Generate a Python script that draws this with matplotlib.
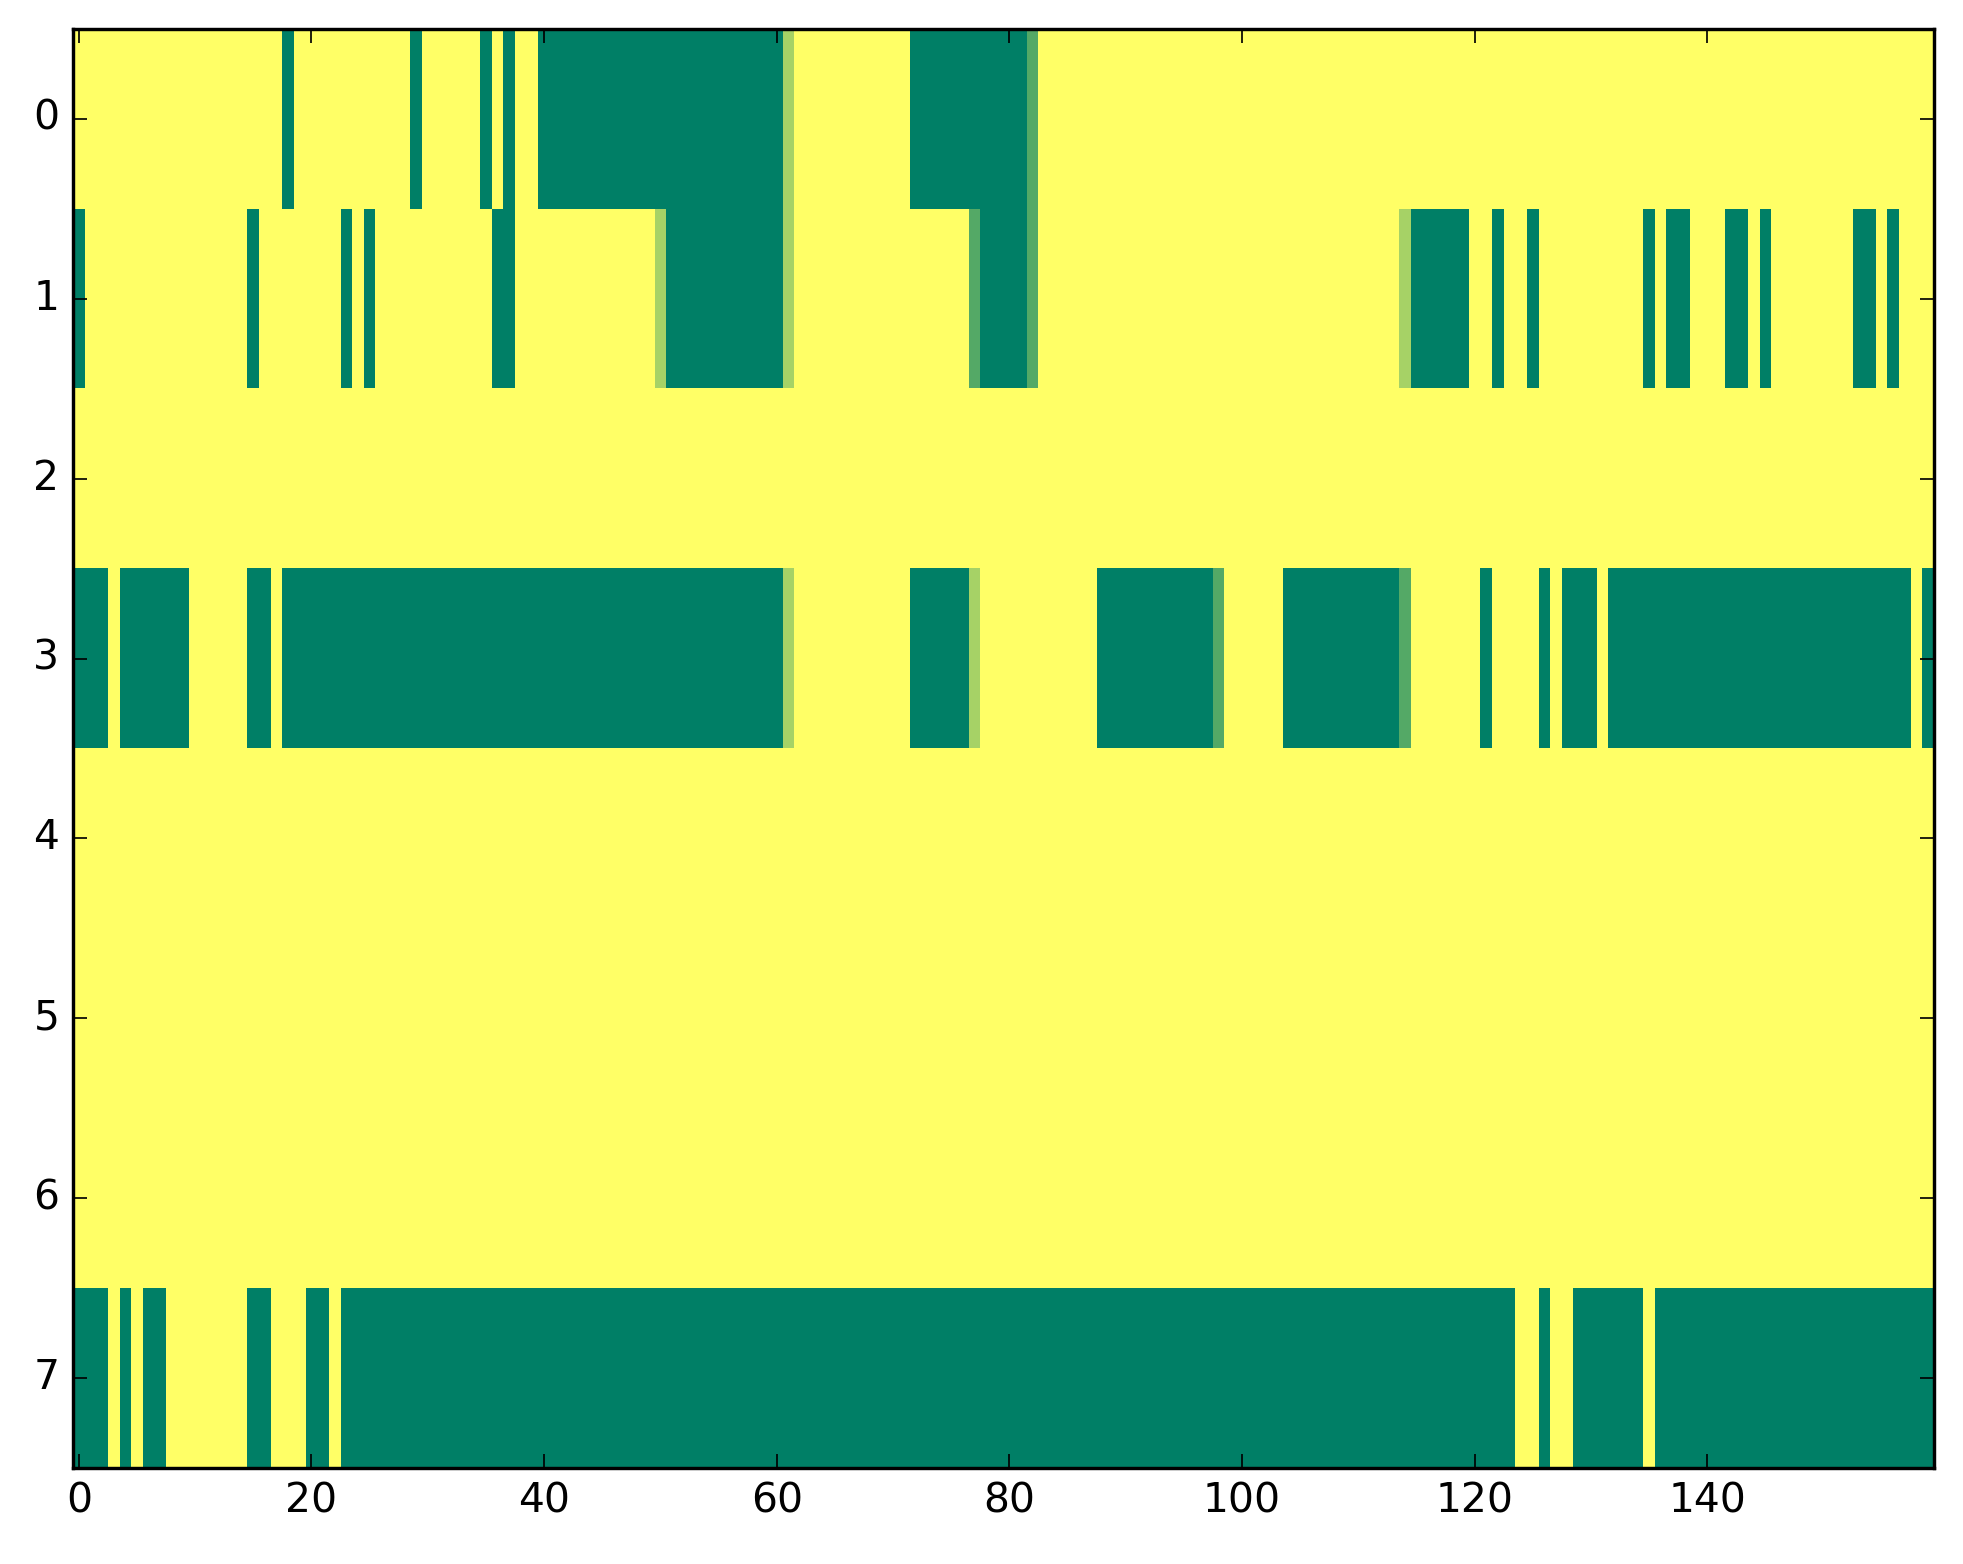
import numpy as np
from matplotlib import pyplot as plt

plt.style.use('classic')

n_rows = 8
n_cols = 160

# runs of zero-valued cells (inclusive column ranges) for each row, everything else is 1
zeros_row0 = [(18, 18), (29, 29), (35, 35), (37, 37), (40, 60), (72, 81)]
zeros_row1 = [(0, 0), (15, 15), (23, 23), (25, 25), (36, 37), (51, 60), (78, 81),
              (115, 119), (122, 122), (125, 125), (135, 135), (137, 138),
              (142, 143), (145, 145), (153, 154), (156, 156)]
zeros_row3 = [(0, 2), (4, 9), (15, 16), (18, 60), (72, 76), (88, 97), (104, 113),
              (121, 121), (126, 126), (128, 130), (132, 157), (159, 159)]
zeros_row7 = [(0, 2), (4, 4), (6, 7), (15, 16), (20, 21), (23, 123), (126, 126),
              (129, 134), (136, 159)]

# cells with in-between values: (row, col, value)
partial_cells = [(0, 61, 0.65), (0, 82, 0.33),
                 (1, 50, 0.65), (1, 61, 0.65), (1, 77, 0.33), (1, 82, 0.33), (1, 114, 0.65),
                 (3, 61, 0.65), (3, 77, 0.65), (3, 98, 0.33), (3, 114, 0.33)]

grid = np.ones((n_rows, n_cols))
for row, runs in [(0, zeros_row0), (1, zeros_row1), (3, zeros_row3), (7, zeros_row7)]:
    for a, b in runs:
        grid[row, a:b + 1] = 0.0
for row, col, val in partial_cells:
    grid[row, col] = val

fig = plt.figure(figsize=(1963 / 245, 1564 / 245), dpi=245)
fig.patch.set_facecolor('white')
ax = fig.add_axes([73 / 1963, 1 - 1468 / 1564, (1934 - 73) / 1963, (1468 - 29) / 1564])
ax.imshow(grid, cmap='summer', interpolation='nearest', aspect='auto', vmin=0, vmax=1)
ax.set_xticks(np.arange(0, 160, 20))
ax.set_yticks(np.arange(0, 8, 1))
ax.tick_params(labelsize=12)

fig.savefig('out.png', dpi=245, facecolor='white')
